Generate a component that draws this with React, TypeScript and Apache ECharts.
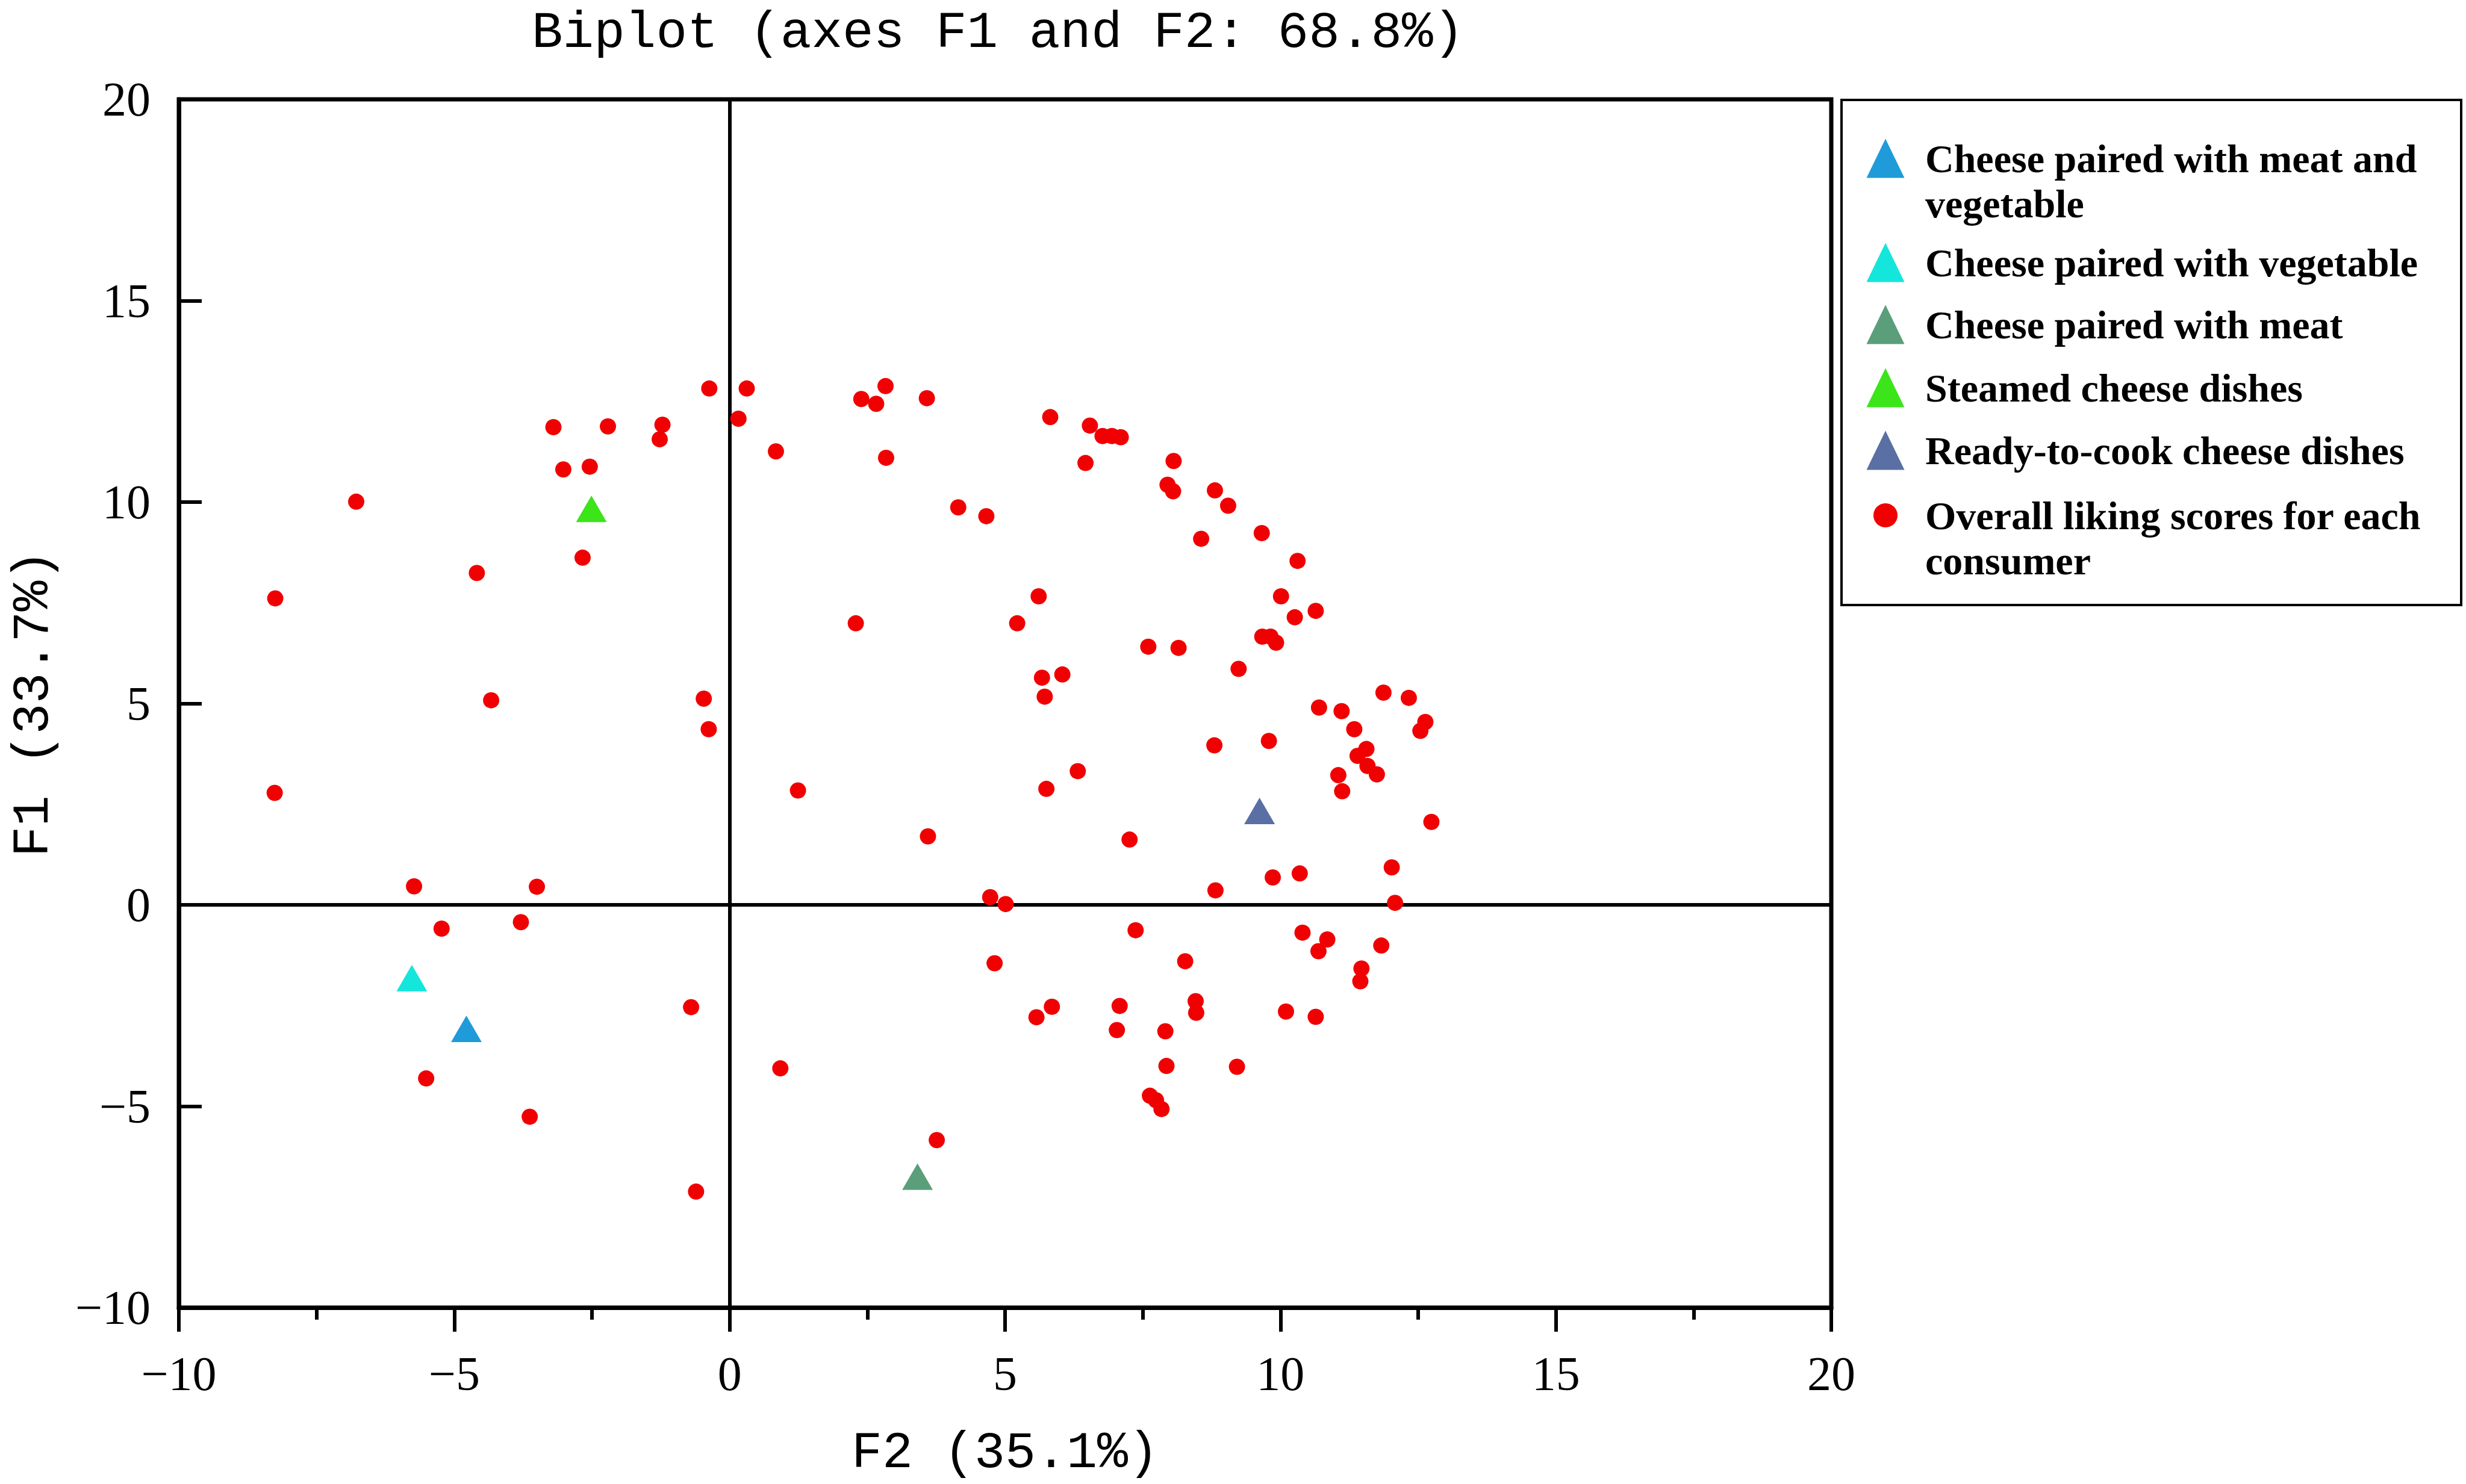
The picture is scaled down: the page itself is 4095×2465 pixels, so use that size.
import React, { useEffect, useRef } from "react";
import * as echarts from "echarts";

// ---- data ----
const titleText = "Biplot (axes F1 and F2: 68.8%)";
const xAxisName = "F2 (35.1%)";
const yAxisName = "F1 (33.7%)";

const seriesNames = [
  "Cheese paired with meat and vegetable",
  "Cheese paired with vegetable",
  "Cheese paired with meat",
  "Steamed cheese dishes",
  "Ready-to-cook cheese dishes",
  "Overall liking scores for each consumer",
];

// how each legend entry wraps in the reference
const legendLines: string[][] = [
  ["Cheese paired with meat and", "vegetable"],
  ["Cheese paired with vegetable"],
  ["Cheese paired with meat"],
  ["Steamed cheese dishes"],
  ["Ready-to-cook cheese dishes"],
  ["Overall liking scores for each", "consumer"],
];

const seriesColors = ["#1F9BDA", "#14E6DC", "#5A9E7A", "#3BE51A", "#5A6FA3", "#F00000"];

const meatVegPoints: [number, number][] = [[-4.78, -3.08]];
const vegPoints: [number, number][] = [[-5.77, -1.82]];
const meatPoints: [number, number][] = [[3.41, -6.75]];
const steamedPoints: [number, number][] = [[-2.51, 9.83]];
const readyPoints: [number, number][] = [[9.62, 2.33]];

const consumerPoints: [number, number][] = [
  // upper left
  [-0.37, 12.82], [0.31, 12.82], [0.16, 12.07], [-3.2, 11.86], [-2.21, 11.88],
  [-1.22, 11.92], [-1.27, 11.56], [0.84, 11.26], [-3.02, 10.81], [-2.54, 10.88],
  [-6.78, 10.01], [-2.67, 8.62], [-4.59, 8.24], [-8.25, 7.61], [-4.33, 5.08],
  [-0.47, 5.12], [-0.38, 4.36],
  // lower left
  [-8.26, 2.78], [-5.73, 0.46], [-3.5, 0.45], [-5.23, -0.59], [-3.79, -0.43],
  [-0.7, -2.54], [-5.51, -4.31], [-3.63, -5.26], [-0.61, -7.12], [0.92, -4.06],
  [1.24, 2.84],
  // upper right
  [2.39, 12.56], [2.83, 12.88], [2.66, 12.44], [3.58, 12.58], [5.82, 12.11],
  [6.54, 11.9], [6.77, 11.64], [6.94, 11.64], [7.1, 11.61], [2.84, 11.1],
  [6.46, 10.97], [8.06, 11.02], [7.95, 10.43], [8.05, 10.27], [8.81, 10.29],
  [9.05, 9.91], [4.15, 9.87], [4.66, 9.65], [8.56, 9.09], [9.66, 9.23],
  [10.31, 8.54], [5.61, 7.66], [2.29, 6.99], [5.22, 6.99], [10.01, 7.66],
  [10.64, 7.3], [10.26, 7.14], [9.67, 6.66], [9.82, 6.66], [9.92, 6.51],
  [7.6, 6.41], [8.15, 6.38], [9.24, 5.86], [5.67, 5.64], [6.04, 5.72],
  [5.72, 5.17], [11.87, 5.27], [12.33, 5.14], [10.7, 4.9], [11.11, 4.81],
  [11.34, 4.36], [12.63, 4.54], [12.54, 4.32], [8.8, 3.96], [9.79, 4.07],
  [11.56, 3.87], [11.4, 3.7], [11.58, 3.45], [11.75, 3.24], [11.05, 3.22],
  [6.32, 3.32],
  // lower right
  [5.75, 2.88], [11.12, 2.82], [12.74, 2.06], [3.6, 1.7], [7.26, 1.62],
  [12.02, 0.93], [9.86, 0.68], [10.35, 0.78], [8.82, 0.36], [4.73, 0.19],
  [5.01, 0.02], [12.08, 0.05], [7.37, -0.63], [10.4, -0.69], [10.85, -0.86],
  [10.69, -1.15], [11.83, -1.01], [11.47, -1.58], [11.45, -1.9], [8.27, -1.4],
  [4.81, -1.45], [5.85, -2.53], [5.57, -2.79], [7.08, -2.51], [7.03, -3.11],
  [8.46, -2.39], [8.47, -2.68], [7.91, -3.14], [10.1, -2.65], [10.64, -2.78],
  [7.93, -4.0], [9.21, -4.02], [7.63, -4.74], [7.74, -4.85], [7.84, -5.07],
  [3.76, -5.84],
];

const axisMin = -10;
const axisMax = 20;
const axisInterval = 5;

// ---- layout ----
const W = 4095;
const H = 2465;
const gridLeft = 297;
const gridTop = 165;
const gridRight = 3041;
const gridBottom = 2172;

const tickFont = "Liberation Serif";
const monoFont = "Liberation Mono";

function fmt(v: number) {
  return v < 0 ? "\u2212" + String(-v) : String(v);
}

export default function App() {
  const ref = useRef<HTMLDivElement>(null);

  useEffect(() => {
    if (!ref.current) return;
    const chart = echarts.init(ref.current, null, { renderer: "svg", width: W, height: H });

    const triangleSets = [meatVegPoints, vegPoints, meatPoints, steamedPoints, readyPoints];

    const series: any[] = [
      {
        type: "scatter",
        name: seriesNames[5],
        data: consumerPoints,
        symbol: "circle",
        symbolSize: 27,
        itemStyle: { color: seriesColors[5], opacity: 1 },
        z: 2,
        silent: true,
        markLine: {
          silent: true,
          symbol: ["none", "none"],
          label: { show: false },
          lineStyle: { color: "#000", width: 6, type: "solid", opacity: 1 },
          data: [{ xAxis: 0 }, { yAxis: 0 }],
          z: 1,
        },
      },
      ...triangleSets.map((pts, i) => ({
        type: "scatter",
        name: seriesNames[i],
        data: pts,
        symbol: "triangle",
        symbolSize: [51, 44],
        itemStyle: { color: seriesColors[i], opacity: 1 },
        z: 3,
        silent: true,
      })),
    ];

    const legendFont = {
      fontFamily: tickFont,
      fontWeight: "bold" as const,
      fontSize: 66,
      lineHeight: 73,
      color: "#000",
    };
    const textLeft = 3197;
    const iconX = 3131;
    const lineStep = 75;
    const iconCenters = [263, 436, 539, 644, 748, 856];

    const legends: any[] = seriesNames.map((name, i) => {
      const isCircle = i === 5;
      const iw = isCircle ? 40 : 63;
      const ih = isCircle ? 40 : 65;
      const left = iconX - iw / 2;
      const padLeft = textLeft - (left + iw + 5);
      const top = iconCenters[i] - Math.max(ih / 2, 73 / 2);
      return {
        data: [name],
        orient: "vertical",
        left,
        top,
        padding: 0,
        itemWidth: iw,
        itemHeight: ih,
        selectedMode: false,
        formatter: () => legendLines[i][0],
        itemStyle: { opacity: 1 },
        textStyle: { ...legendFont, padding: [0, 0, 0, padLeft] },
      };
    });

    const extraLines: any[] = [];
    legendLines.forEach((lines, i) => {
      lines.slice(1).forEach((t, k) => {
        extraLines.push({
          type: "text",
          x: textLeft,
          y: iconCenters[i] + lineStep * (k + 1),
          silent: true,
          style: {
            text: t,
            fill: "#000",
            font: `bold 66px "${tickFont}"`,
            textAlign: "left",
            textVerticalAlign: "middle",
            verticalAlign: "middle",
          },
        });
      });
    });

    const option: any = {
      animation: false,
      backgroundColor: "#fff",
      title: {
        text: titleText,
        left: 883,
        top: 12,
        padding: 0,
        textStyle: {
          fontFamily: monoFont,
          fontWeight: "normal",
          fontSize: 86,
          color: "#000",
        },
      },
      legend: legends,
      grid: {
        left: gridLeft,
        top: gridTop,
        width: gridRight - gridLeft,
        height: gridBottom - gridTop,
        show: true,
        borderColor: "#000",
        borderWidth: 7,
        backgroundColor: "transparent",
        containLabel: false,
        outerBoundsMode: "none",
      },
      xAxis: {
        type: "value",
        min: axisMin,
        max: axisMax,
        interval: axisInterval,
        name: xAxisName,
        nameLocation: "middle",
        nameGap: 200,
        nameTextStyle: { fontFamily: monoFont, fontSize: 85, color: "#000" },
        axisLine: { show: true, onZero: false, lineStyle: { color: "#000", width: 7 } },
        axisTick: { show: true, inside: false, length: 40, lineStyle: { color: "#000", width: 6 } },
        minorTick: { show: true, splitNumber: 2, length: 20, lineStyle: { color: "#000", width: 6 } },
        splitLine: { show: false },
        minorSplitLine: { show: false },
        axisLabel: {
          margin: 70,
          fontFamily: tickFont,
          fontSize: 80,
          color: "#000",
          formatter: (v: number) => fmt(v),
        },
      },
      yAxis: {
        type: "value",
        min: axisMin,
        max: axisMax,
        interval: axisInterval,
        name: yAxisName,
        nameLocation: "middle",
        nameGap: 198,
        nameTextStyle: { fontFamily: monoFont, fontSize: 85, color: "#000" },
        axisLine: { show: true, onZero: false, lineStyle: { color: "#000", width: 7 } },
        axisTick: { show: true, inside: true, length: 38, lineStyle: { color: "#000", width: 6 } },
        splitLine: { show: false },
        axisLabel: {
          margin: 47,
          fontFamily: tickFont,
          fontSize: 80,
          color: "#000",
          formatter: (v: number) => fmt(v),
        },
      },
      graphic: [
        {
          type: "rect",
          shape: { x: 3058, y: 166, width: 1029, height: 839 },
          style: { fill: "none", stroke: "#000", lineWidth: 4 },
          silent: true,
          z: 0,
        },
        ...extraLines,
      ],
      series,
    };

    chart.setOption(option);
    return () => {
      chart.dispose();
    };
  }, []);

  return (
    <div
      ref={ref}
      style={{ position: "fixed", left: 0, top: 0, width: W + "px", height: H + "px", background: "#fff" }}
    />
  );
}
